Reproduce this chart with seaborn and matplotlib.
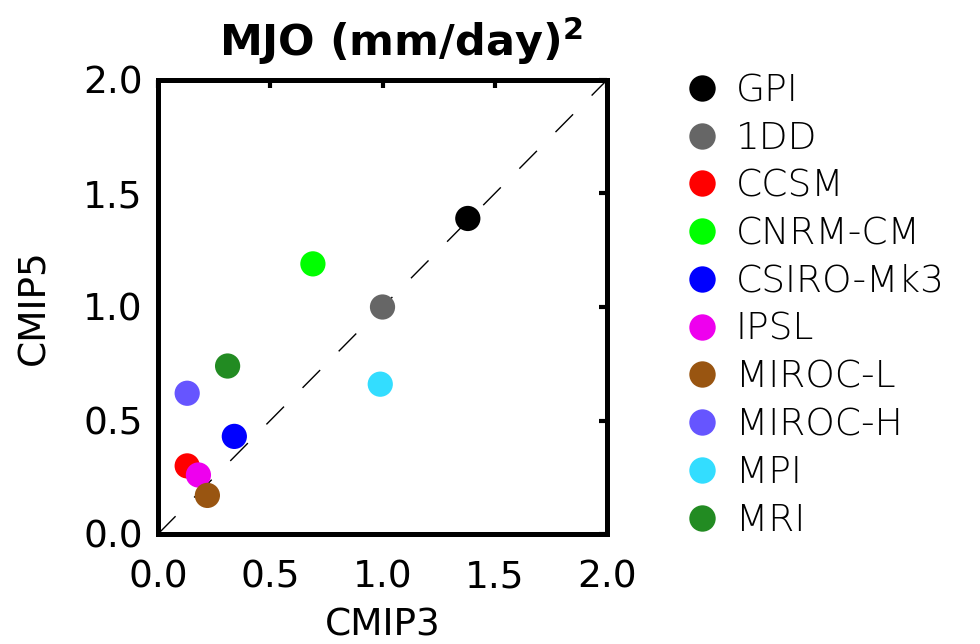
import numpy as np
import pandas as pd
import seaborn as sns
from matplotlib import pyplot as plt
from matplotlib.lines import Line2D

models = ['GPI', '1DD', 'CCSM', 'CNRM-CM', 'CSIRO-Mk3', 'IPSL', 'MIROC-L', 'MIROC-H', 'MPI', 'MRI']
cmip3 = [1.38, 1.00, 0.13, 0.69, 0.34, 0.18, 0.22, 0.13, 0.99, 0.31]
cmip5 = [1.39, 1.00, 0.30, 1.19, 0.43, 0.26, 0.17, 0.62, 0.66, 0.74]
colors = ['#000000', '#666666', '#ff0000', '#00ff00', '#0000ff', '#ee00ee', '#995511', '#6655ff', '#33ddff', '#228b22']
one_to_one = [0.0, 2.0]
ticks = [0.0, 0.5, 1.0, 1.5, 2.0]

sns.set_style('white')
plt.rcParams['font.family'] = ['DejaVu Sans']
plt.rcParams.update({'text.color': 'k', 'axes.labelcolor': 'k',
                     'xtick.color': 'k', 'ytick.color': 'k'})

df = pd.DataFrame({'model': models, 'CMIP3': cmip3, 'CMIP5': cmip5})
palette = dict(zip(models, colors))

fig = plt.figure(figsize=(9.8, 6.44), dpi=100)
ax = fig.add_axes([158 / 980, 1 - 534 / 644, 449 / 980, 454 / 644])

ax.plot(one_to_one, one_to_one, c='k', lw=1.0, dashes=(18, 19), zorder=1)
sns.scatterplot(data=df, x='CMIP3', y='CMIP5', hue='model', palette=palette,
                s=330, linewidth=0, legend=False, ax=ax, zorder=3)

ax.set_xlim(0, 2)
ax.set_ylim(0, 2)
ax.set_xticks(ticks)
ax.set_yticks(ticks)
ax.set_xticklabels([f'{t:.1f}' for t in ticks])
ax.set_yticklabels([f'{t:.1f}' for t in ticks])
ax.tick_params(direction='in', length=6, width=3, top=True, right=True,
               labelsize=27)
ax.tick_params(axis='x', pad=18)
ax.tick_params(axis='y', pad=11)
for lbl in ax.get_xticklabels() + ax.get_yticklabels():
    lbl.set_fontweight('medium')
for sp in ax.spines.values():
    sp.set_linewidth(3.6)
    sp.set_color('k')

ax.set_xlabel('CMIP3', fontsize=27, fontweight='medium')
ax.set_ylabel('CMIP5', fontsize=27, fontweight='medium')
ax.xaxis.set_label_coords(0.5, -0.162)
ax.yaxis.set_label_coords(-0.235, 0.5)

ax.text(0.541, 1 + 24 / 454, 'MJO (mm/day)$^\\mathbf{2}$', transform=ax.transAxes,
        ha='center', va='baseline', fontsize=31, fontweight='bold')

handles = [Line2D([], [], ls='none', marker='o', ms=19, mec='none', mfc=c) for c in colors]
leg = ax.legend(handles, models, loc='upper left', bbox_to_anchor=(683 / 980, 1 - 73 / 644),
                bbox_transform=fig.transFigure, frameon=False, fontsize=27,
                handlelength=1.0, handletextpad=0.4, labelspacing=0.34,
                borderpad=0, borderaxespad=0, numpoints=1)
for t in leg.get_texts():
    t.set_fontweight('light')
    t.set_color('k')

fig.savefig('out.png', dpi=100)
